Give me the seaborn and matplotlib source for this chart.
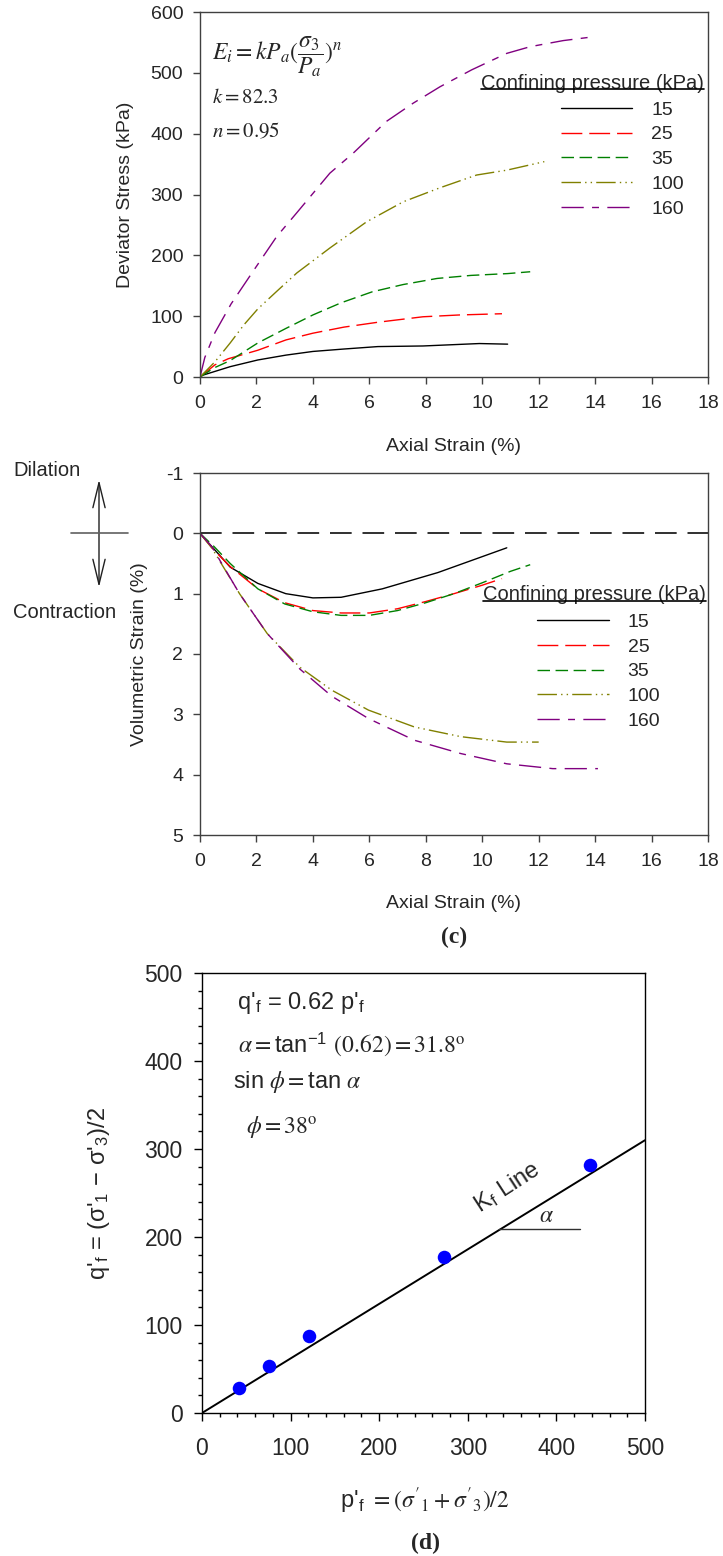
import numpy as np
import pandas as pd
import matplotlib
matplotlib.use("Agg")
import matplotlib.pyplot as plt
import seaborn as sns
from matplotlib.lines import Line2D
from matplotlib.ticker import MultipleLocator

# ---------------- data ----------------
pressures = ["15", "25", "35", "100", "160"]
colors = ["#000000", "#FF0000", "#008000", "#808000", "#800080"]
dash_styles = ["", (15, 5), (9, 4), (14, 3, 1, 3, 1, 3), (16, 6, 5, 6)]
legend_title = "Confining pressure (kPa)"

# (a) deviator stress vs axial strain
dev_x_15 = [0, 0.1, 1.07, 2.05, 3.05, 4.0, 5.1, 6.3, 7.9, 9.9, 10.9]
dev_y_15 = [0, 3, 17, 28, 36, 42, 46, 50, 51, 55, 54]
dev_x_25 = [0, 0.53, 1.0, 2.05, 3.05, 4.0, 5.1, 6.3, 7.9, 9.2, 10.7]
dev_y_25 = [0, 20, 30, 44, 61, 72, 82, 90, 99, 102, 104]
dev_x_35 = [0, 0.5, 1.07, 2.05, 3.05, 4.0, 5.0, 6.1, 7.2, 8.4, 9.6, 10.9, 11.7]
dev_y_35 = [0, 15, 27, 56, 80, 102, 122, 140, 152, 162, 167, 170, 173]
dev_x_100 = [0, 0.53, 1.07, 1.56, 2.05, 2.77, 3.43, 4.6, 5.9, 7.2, 8.5, 9.8, 10.87, 12.2]
dev_y_100 = [0, 25, 56, 86, 112, 143, 171, 212, 255, 288, 311, 332, 340, 354]
dev_x_160 = [0, 0.17, 0.53, 1.1, 1.84, 2.72, 3.43, 4.6, 5.43, 6.6, 7.55, 8.5, 9.63, 10.87, 11.7, 12.87, 13.9]
dev_y_160 = [0, 32, 73, 120, 171, 231, 270, 335, 368, 420, 450, 477, 505, 532, 543, 553, 559]

# (c) volumetric strain vs axial strain (positive = contraction)
vol_x_15 = [0, 1.07, 2.05, 3.04, 4.0, 5.0, 6.46, 8.43, 9.74, 10.87]
vol_y_15 = [0, 0.56, 0.83, 1.0, 1.07, 1.06, 0.92, 0.65, 0.43, 0.24]
vol_x_25 = [0, 0.5, 1.07, 2.05, 3.0, 4.0, 5.0, 6.0, 7.0, 8.0, 9.0, 10.0, 10.7]
vol_y_25 = [0, 0.28, 0.55, 0.92, 1.15, 1.28, 1.32, 1.32, 1.25, 1.13, 1.0, 0.86, 0.75]
vol_x_35 = [0, 0.5, 1.07, 2.05, 3.0, 4.0, 5.0, 6.0, 7.0, 8.0, 9.0, 10.0, 11.0, 11.7]
vol_y_35 = [0, 0.22, 0.5, 0.92, 1.17, 1.3, 1.36, 1.36, 1.28, 1.15, 1.0, 0.82, 0.63, 0.52]
vol_x_100 = [0, 0.43, 1.4, 2.38, 3.54, 4.67, 5.97, 7.6, 9.24, 10.87, 12.0]
vol_y_100 = [0, 0.25, 1.0, 1.66, 2.22, 2.6, 2.93, 3.21, 3.37, 3.46, 3.46]
vol_x_160 = [0, 0.43, 1.4, 2.38, 3.54, 4.67, 5.97, 7.6, 9.24, 10.87, 12.5, 14.1]
vol_y_160 = [0, 0.23, 1.0, 1.66, 2.25, 2.7, 3.07, 3.43, 3.65, 3.82, 3.9, 3.9]

# (d) failure points
p_f = [42, 76, 121, 273, 438]
q_f = [28, 53, 87, 177, 282]
kf_slope = 0.62
kf_x = [0, 500]

dev_x = [dev_x_15, dev_x_25, dev_x_35, dev_x_100, dev_x_160]
dev_y = [dev_y_15, dev_y_25, dev_y_35, dev_y_100, dev_y_160]
vol_x = [vol_x_15, vol_x_25, vol_x_35, vol_x_100, vol_x_160]
vol_y = [vol_y_15, vol_y_25, vol_y_35, vol_y_100, vol_y_160]


def long_df(xs, ys):
    rows = []
    for p, xx, yy in zip(pressures, xs, ys):
        for i, (a, b) in enumerate(zip(xx, yy)):
            rows.append({"pressure": p, "order": i, "x": a, "y": b})
    return pd.DataFrame(rows)


df_dev = long_df(dev_x, dev_y)
df_vol = long_df(vol_x, vol_y)
df_pts = pd.DataFrame({"p": p_f, "q": q_f})
df_kf = pd.DataFrame({"p": kf_x, "q": [kf_slope * v for v in kf_x]})

# ---------------- style ----------------
sns.set_style("white")
plt.rcParams["font.family"] = ["Liberation Sans", "DejaVu Sans"]
plt.rcParams["mathtext.fontset"] = "stix"
plt.rcParams["axes.unicode_minus"] = False

W, H = 723, 1556
fig = plt.figure(figsize=(W / 100, H / 100), dpi=100)


def px_axes(left, top, right, bottom):
    return fig.add_axes([left / W, 1 - bottom / H, (right - left) / W, (bottom - top) / H])


palette = dict(zip(pressures, colors))
dashes = dict(zip(pressures, dash_styles))
spine_col = "#404040"


def style_axes(ax, col, fs):
    for s in ax.spines.values():
        s.set_visible(True)
        s.set_color(col)
        s.set_linewidth(1.0)
    ax.tick_params(axis="both", which="major", direction="out", length=5, width=1,
                   color=col, labelsize=fs, left=True, bottom=True)
    ax.tick_params(axis="x", pad=8)
    ax.tick_params(axis="y", pad=7)


titles = []


def add_legend(ax, anchor, title_xy):
    handles = ax.get_lines()[:len(pressures)]
    leg = ax.legend(handles, pressures, frameon=False,
                    loc="upper right", bbox_to_anchor=anchor, fontsize=14,
                    handlelength=3.66, handletextpad=0.98, labelspacing=0.37, borderpad=0,
                    borderaxespad=0)
    t = ax.text(title_xy[0], title_xy[1], legend_title, transform=ax.transAxes,
                fontsize=14.5, ha="right", va="center")
    titles.append(t)
    return leg


# ---------------- panel (a) ----------------
ax1 = px_axes(200, 12, 708, 377)
sns.lineplot(data=df_dev, x="x", y="y", hue="pressure", style="pressure", hue_order=pressures,
             style_order=pressures, palette=palette, dashes=dashes, estimator=None, sort=False,
             units="pressure", legend=False, lw=1.0, ax=ax1)
ax1.set_xlim(0, 18)
ax1.set_ylim(0, 600)
ax1.xaxis.set_major_locator(MultipleLocator(2))
ax1.yaxis.set_major_locator(MultipleLocator(100))
style_axes(ax1, spine_col, 14)
ax1.set_xlabel("Axial Strain (%)", fontsize=14)
ax1.set_ylabel("Deviator Stress (kPa)", fontsize=14)
ax1.xaxis.set_label_coords(0.5, -0.168)
ax1.yaxis.set_label_coords(-0.130, 0.5)
leg1 = add_legend(ax1, (0.953, 0.756), (0.992, (377 - 83) / 365))
ax1.text(0.024, 0.877, r"$E_i = kP_a(\dfrac{\sigma_3}{P_a})^n$", transform=ax1.transAxes,
         fontsize=17, va="center", ha="left")
ax1.text(0.024, 0.767, r"$k = 82.3$", transform=ax1.transAxes, fontsize=15, va="center", ha="left")
ax1.text(0.024, 0.674, r"$n = 0.95$", transform=ax1.transAxes, fontsize=15, va="center", ha="left")

# ---------------- panel (c) ----------------
ax2 = px_axes(200, 473, 708, 835)
sns.lineplot(data=df_vol, x="x", y="y", hue="pressure", style="pressure", hue_order=pressures,
             style_order=pressures, palette=palette, dashes=dashes, estimator=None, sort=False,
             units="pressure", legend=False, lw=1.0, ax=ax2)
ax2.axhline(0, color="#202020", lw=1.3, dashes=(12, 6))
ax2.set_xlim(0, 18)
ax2.set_ylim(5, -1)
ax2.xaxis.set_major_locator(MultipleLocator(2))
ax2.yaxis.set_major_locator(MultipleLocator(1))
style_axes(ax2, spine_col, 14)
ax2.set_xlabel("Axial Strain (%)", fontsize=14)
ax2.set_ylabel("Volumetric Strain (%)", fontsize=14)
ax2.xaxis.set_label_coords(0.5, -0.166)
ax2.yaxis.set_label_coords(-0.102, 0.5)
leg2 = add_legend(ax2, (0.906, 0.613), (0.996, (835 - 595) / 362))

fig.text(13 / W, 1 - 471 / H, "Dilation", fontsize=14.5, ha="left", va="center")
fig.text(13 / W, 1 - 612 / H, "Contraction", fontsize=14.5, ha="left", va="center")
fig.add_artist(Line2D([71 / W, 128 / W], [1 - 533 / H, 1 - 533 / H], color="#606060", lw=1.2))
fig.add_artist(matplotlib.patches.FancyArrowPatch(
    (99 / W, 1 - 590 / H), (99 / W, 1 - 477 / H), transform=fig.transFigure,
    arrowstyle="<->,head_length=0.9,head_width=0.22", mutation_scale=20, color="#202020", lw=1.0))
fig.text(454 / W, 1 - 937 / H, "(c)", fontsize=17, fontweight="bold", family="Liberation Serif",
         ha="center", va="center")

# ---------------- panel (d) ----------------
ax3 = px_axes(202, 973, 645, 1413)
sns.lineplot(data=df_kf, x="p", y="q", color="black", lw=1.4, ax=ax3)
sns.scatterplot(data=df_pts, x="p", y="q", color="#0000FF", s=95, edgecolor="#0000FF",
                linewidth=0, zorder=3, ax=ax3)
ax3.set_xlim(0, 500)
ax3.set_ylim(0, 500)
ax3.xaxis.set_major_locator(MultipleLocator(100))
ax3.yaxis.set_major_locator(MultipleLocator(100))
ax3.xaxis.set_minor_locator(MultipleLocator(20))
ax3.yaxis.set_minor_locator(MultipleLocator(20))
style_axes(ax3, "black", 16.5)
ax3.tick_params(axis="both", which="major", length=6)
ax3.tick_params(axis="both", which="minor", direction="out", length=3, width=1,
                color="black", left=True, bottom=True)
ax3.tick_params(axis="x", pad=11)
ax3.tick_params(axis="y", pad=8)
ax3.set_xlabel(r"p'$_\mathregular{f}$ $= (\sigma'_1 + \sigma'_3)/2$", fontsize=17)
ax3.set_ylabel(r"q'$_\mathregular{f}$ = (σ'$_\mathregular{1}$ − σ'$_\mathregular{3}$)/2", fontsize=17)
ax3.xaxis.set_label_coords(0.503, -0.164)
ax3.yaxis.set_label_coords(-0.203, 0.5)

ax3.text(40, 466, r"q'$_\mathregular{f}$ = 0.62 p'$_\mathregular{f}$", fontsize=17, va="center", ha="left")
ax3.text(41, 418, r"$\alpha = $tan$^{\mathregular{-1}}$ $(0.62) = 31.8^\mathrm{o}$", fontsize=17,
         va="center", ha="left")
ax3.text(35, 376, r"sin $\phi = $tan $\alpha$", fontsize=17, va="center", ha="left")
ax3.text(50, 325, r"$\phi = 38^\mathrm{o}$", fontsize=17, va="center", ha="left")
ax3.text(345, 256, r"K$_\mathregular{f}$ Line", fontsize=17, rotation=33, ha="center", va="center",
         rotation_mode="anchor")
ax3.plot([335, 427], [209, 209], color="#303030", lw=1.0)
ax3.text(389, 224, r"$\alpha$", fontsize=17, ha="center", va="center")
fig.text(425 / W, 1 - 1543 / H, "(d)", fontsize=17, fontweight="bold", family="Liberation Serif",
         ha="center", va="center")

# ---------------- legend title underline ----------------
fig.canvas.draw()
renderer = fig.canvas.get_renderer()
for t in titles:
    bb = t.get_window_extent(renderer)
    yline = bb.y0 + 0.17 * bb.height
    fig.add_artist(Line2D([bb.x0 / W, bb.x1 / W], [yline / H, yline / H], color="black", lw=1.2))

fig.savefig("out.png", dpi=100)
